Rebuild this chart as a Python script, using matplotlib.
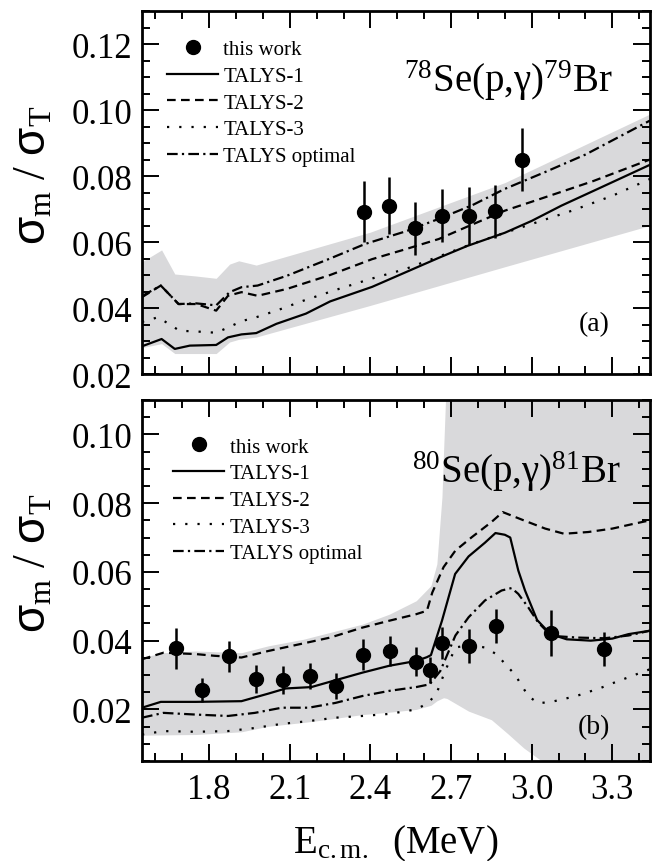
import matplotlib
matplotlib.use('Agg')
import matplotlib.pyplot as plt
from matplotlib.ticker import MultipleLocator

plt.rcParams['font.family'] = ['Liberation Serif', 'DejaVu Sans']
plt.rcParams['mathtext.fontset'] = 'custom'
plt.rcParams['mathtext.rm'] = 'Liberation Serif'
plt.rcParams['mathtext.it'] = 'Liberation Serif:italic'
plt.rcParams['mathtext.sf'] = 'Liberation Sans'

"""
data read off the figure
"""
# (a) 78Se(p,g)79Br
E_a = [2.376, 2.468, 2.567, 2.666, 2.765, 2.864, 2.965]
s_a = [0.0692, 0.0710, 0.0642, 0.0680, 0.0679, 0.0693, 0.0849]
err_a = [0.0093, 0.0086, 0.0080, 0.0080, 0.0088, 0.0080, 0.0095]

t1_a_E = [1.55, 1.623, 1.672, 1.728, 1.826, 1.87, 1.92, 1.975, 2.05, 2.16, 2.25, 2.406, 2.53, 2.654, 2.76, 2.90, 3.0, 3.11, 3.23, 3.44]
t1_a = [0.0284, 0.0306, 0.0276, 0.0286, 0.0288, 0.0311, 0.0320, 0.0324, 0.0352, 0.0383, 0.0420, 0.0464, 0.0508, 0.0552, 0.0588, 0.0628, 0.0664, 0.0710, 0.0755, 0.0834]
t2_a_E = [1.55, 1.62, 1.686, 1.752, 1.826, 1.87, 1.92, 1.98, 2.09, 2.25, 2.406, 2.53, 2.654, 2.77, 2.90, 3.0, 3.11, 3.23, 3.44]
t2_a = [0.0433, 0.0468, 0.0412, 0.0412, 0.0392, 0.0437, 0.0448, 0.0437, 0.0458, 0.0500, 0.0548, 0.0578, 0.0609, 0.0650, 0.0695, 0.0722, 0.0752, 0.0785, 0.0850]
t3_a_E = [1.55, 1.61, 1.69, 1.75, 1.826, 1.876, 1.92, 1.975, 2.05, 2.15, 2.283, 2.40, 2.53, 2.654, 2.777, 2.90, 3.02, 3.15, 3.30, 3.44]
t3_a = [0.0358, 0.0372, 0.0331, 0.0329, 0.0325, 0.0343, 0.0360, 0.0372, 0.0392, 0.0422, 0.0458, 0.0488, 0.0518, 0.0556, 0.0594, 0.0628, 0.0660, 0.0695, 0.0740, 0.0791]
opt_a_E = [1.55, 1.62, 1.686, 1.752, 1.826, 1.876, 1.92, 1.98, 2.09, 2.25, 2.38, 2.53, 2.654, 2.78, 2.90, 3.05, 3.2, 3.44]
opt_a = [0.0436, 0.0468, 0.0412, 0.0414, 0.0408, 0.0448, 0.0463, 0.0468, 0.0498, 0.0550, 0.0594, 0.0632, 0.0670, 0.0712, 0.0761, 0.0812, 0.0865, 0.0968]
band_a_E = [1.55, 1.623, 1.672, 1.75, 1.826, 1.876, 1.91, 1.975, 2.40, 2.90, 3.44]
band_a_lo = [0.0280, 0.0292, 0.0262, 0.0262, 0.0262, 0.0297, 0.0305, 0.0312, 0.0408, 0.0525, 0.0650]
band_a_hi = [0.0540, 0.0576, 0.0503, 0.0497, 0.0490, 0.0533, 0.0543, 0.0530, 0.0630, 0.0780, 0.0988]

# (b) 80Se(p,g)81Br
E_b = [1.675, 1.775, 1.873, 1.975, 2.073, 2.174, 2.273, 2.373, 2.471, 2.570, 2.622, 2.668, 2.767, 2.867, 3.070, 3.270]
s_b = [0.0378, 0.0257, 0.0354, 0.0289, 0.0286, 0.0297, 0.0268, 0.0359, 0.0370, 0.0339, 0.0315, 0.0393, 0.0385, 0.0443, 0.0422, 0.0375]
err_b = [0.0060, 0.0035, 0.0045, 0.0040, 0.0040, 0.0037, 0.0037, 0.0045, 0.0043, 0.0042, 0.0037, 0.0046, 0.0049, 0.0049, 0.0066, 0.0049]

t1_b_E = [1.55, 1.62, 1.75, 1.92, 2.02, 2.085, 2.18, 2.27, 2.37, 2.47, 2.57, 2.61, 2.625, 2.666, 2.715, 2.765, 2.826, 2.865, 2.90, 2.92, 2.95, 2.975, 3.02, 3.07, 3.13, 3.22, 3.30, 3.36, 3.44]
t1_b = [0.0205, 0.0222, 0.0222, 0.0224, 0.0246, 0.0261, 0.0265, 0.0285, 0.0307, 0.0327, 0.0341, 0.0352, 0.0358, 0.0458, 0.0594, 0.0645, 0.0685, 0.0713, 0.0708, 0.0700, 0.0604, 0.0546, 0.0460, 0.0419, 0.0404, 0.0400, 0.0406, 0.0419, 0.0429]
t2_b_E = [1.55, 1.63, 1.75, 1.82, 1.92, 2.02, 2.15, 2.25, 2.37, 2.47, 2.57, 2.61, 2.63, 2.672, 2.716, 2.777, 2.85, 2.892, 2.97, 3.05, 3.12, 3.21, 3.30, 3.38, 3.44]
t2_b = [0.0346, 0.0365, 0.0361, 0.0356, 0.0351, 0.0370, 0.0392, 0.0409, 0.0438, 0.0458, 0.0477, 0.0487, 0.0540, 0.0614, 0.0662, 0.0701, 0.0745, 0.0774, 0.0750, 0.0726, 0.0711, 0.0716, 0.0726, 0.0740, 0.0750]
t3_b_E = [1.55, 1.63, 1.75, 1.87, 1.97, 2.07, 2.17, 2.27, 2.37, 2.47, 2.57, 2.617, 2.647, 2.678, 2.716, 2.77, 2.826, 2.87, 2.90, 2.937, 2.987, 3.024, 3.073, 3.166, 3.258, 3.307, 3.44]
t3_b = [0.0127, 0.0137, 0.0135, 0.0137, 0.0146, 0.0158, 0.0166, 0.0176, 0.0181, 0.0187, 0.0200, 0.0220, 0.0249, 0.0312, 0.0380, 0.0388, 0.0380, 0.0360, 0.0333, 0.0302, 0.0239, 0.0218, 0.0222, 0.0239, 0.0263, 0.0278, 0.0317]
opt_b_E = [1.55, 1.63, 1.75, 1.87, 1.97, 2.07, 2.17, 2.27, 2.37, 2.47, 2.57, 2.62, 2.66, 2.716, 2.765, 2.826, 2.888, 2.925, 2.95, 2.987, 3.024, 3.073, 3.17, 3.27, 3.36, 3.44]
opt_b = [0.0176, 0.0190, 0.0185, 0.0181, 0.0190, 0.0205, 0.0205, 0.0219, 0.0239, 0.0254, 0.0265, 0.0273, 0.0312, 0.0415, 0.0468, 0.0517, 0.0546, 0.0553, 0.0536, 0.0497, 0.0453, 0.0414, 0.0409, 0.0407, 0.0415, 0.0429]
band_b_E = [1.55, 1.63, 1.75, 1.92, 2.02, 2.15, 2.25, 2.37, 2.47, 2.57, 2.625, 2.647, 2.666, 2.672, 2.684, 2.765, 2.85, 2.91, 2.97, 3.03, 3.08, 3.44]
band_b_lo = [0.0125, 0.0126, 0.0127, 0.0135, 0.0151, 0.0162, 0.0172, 0.0185, 0.0192, 0.0200, 0.0212, 0.0225, 0.0232, 0.0234, 0.0232, 0.0195, 0.0170, 0.0130, 0.0088, 0.0054, 0.0040, 0.0000]
band_b_hi = [0.0351, 0.0365, 0.0370, 0.0365, 0.0385, 0.0404, 0.0424, 0.0448, 0.0477, 0.0516, 0.0560, 0.0623, 0.0818, 0.0950, 0.1200, 0.1200, 0.1200, 0.1200, 0.1200, 0.1200, 0.1200, 0.1200]

band_col = '#d9d9db'
lw = 1.6
ls_dash = (0, (3.9, 2.4))
ls_dot = (0, (1.0, 4.5))
ls_dd = (0, (4.8, 1.9, 1.0, 1.9))


def panel(ax, bandE, lo, hi, lines, E, s, err, ylim, tag, tagpos, reaction, rpos, legpos):
    ax.fill_between(bandE, lo, hi, color=band_col, lw=0, zorder=0)
    names = ['TALYS-1', 'TALYS-2', 'TALYS-3', 'TALYS optimal']
    styles = ['-', ls_dash, ls_dot, ls_dd]
    handles = []
    for (xx, yy), name, st in zip(lines, names, styles):
        h, = ax.plot(xx, yy, color='black', lw=lw, linestyle=st, label=name, zorder=2)
        handles.append(h)
    eb = ax.errorbar(E, s, yerr=err, fmt='o', color='black', ms=10, elinewidth=1.8,
                     capsize=0, zorder=3, label='this work')
    ax.legend([eb[0]] + handles, ['this work'] + names, loc='upper left',
              bbox_to_anchor=legpos, frameon=False, fontsize=15,
              handlelength=2.45, handletextpad=0.25, labelspacing=0.34,
              borderaxespad=0.2)
    ax.text(rpos[0], rpos[1], reaction, transform=ax.transAxes, ha='right', va='baseline',
            fontsize=28)
    ax.text(tagpos[0], tagpos[1], tag, transform=ax.transAxes, ha='center', va='center',
            fontsize=20)
    ax.set_xlim(1.55, 3.44)
    ax.set_ylim(*ylim)
    ax.xaxis.set_major_locator(MultipleLocator(0.3))
    ax.xaxis.set_minor_locator(MultipleLocator(0.1))
    ax.yaxis.set_major_locator(MultipleLocator(0.02))
    ax.yaxis.set_minor_locator(MultipleLocator(0.005))
    ax.tick_params(which='both', direction='in', top=True, right=True, width=1.4)
    ax.tick_params(which='major', length=12.5)
    ax.tick_params(which='minor', length=6)
    ax.tick_params(axis='y', labelsize=25, pad=7)
    ax.tick_params(axis='x', labelsize=25, pad=9)
    for sp in ax.spines.values():
        sp.set_linewidth(2)
    ax.set_ylabel(r'$\mathsf{σ}_{\mathrm{m}}\ /\ \mathsf{σ}_{\mathrm{T}}$', fontsize=33)
    ax.yaxis.set_label_coords(-0.17, 0.55)


fig = plt.figure(figsize=(6.59, 8.62), dpi=100)
ax1 = fig.add_axes([142/659, 1-375/862, 508/659, 363/862])
ax2 = fig.add_axes([142/659, 1-762/862, 508/659, 361/862])

panel(ax1, band_a_E, band_a_lo, band_a_hi,
      [(t1_a_E, t1_a), (t2_a_E, t2_a), (t3_a_E, t3_a), (opt_a_E, opt_a)],
      E_a, s_a, err_a, (0.02, 0.13), '(a)', (0.89, 0.138),
      r'$^{78}$Se(p,γ)$^{79}$Br', (0.927, 0.78), (0.025, 0.955))
panel(ax2, band_b_E, band_b_lo, band_b_hi,
      [(t1_b_E, t1_b), (t2_b_E, t2_b), (t3_b_E, t3_b), (opt_b_E, opt_b)],
      E_b, s_b, err_b, (0.005, 0.11), '(b)', (0.89, 0.094),
      r'$^{80}$Se(p,γ)$^{81}$Br', (0.941, 0.773), (0.037, 0.932))

ax1.tick_params(axis='x', labelbottom=False)
ax2.set_xlabel(r'E$_{\mathrm{c{.}m{.}}}$  (MeV)', fontsize=28)
ax2.xaxis.set_label_coords(0.5, -0.17)

fig.savefig('out.png', dpi=100)
